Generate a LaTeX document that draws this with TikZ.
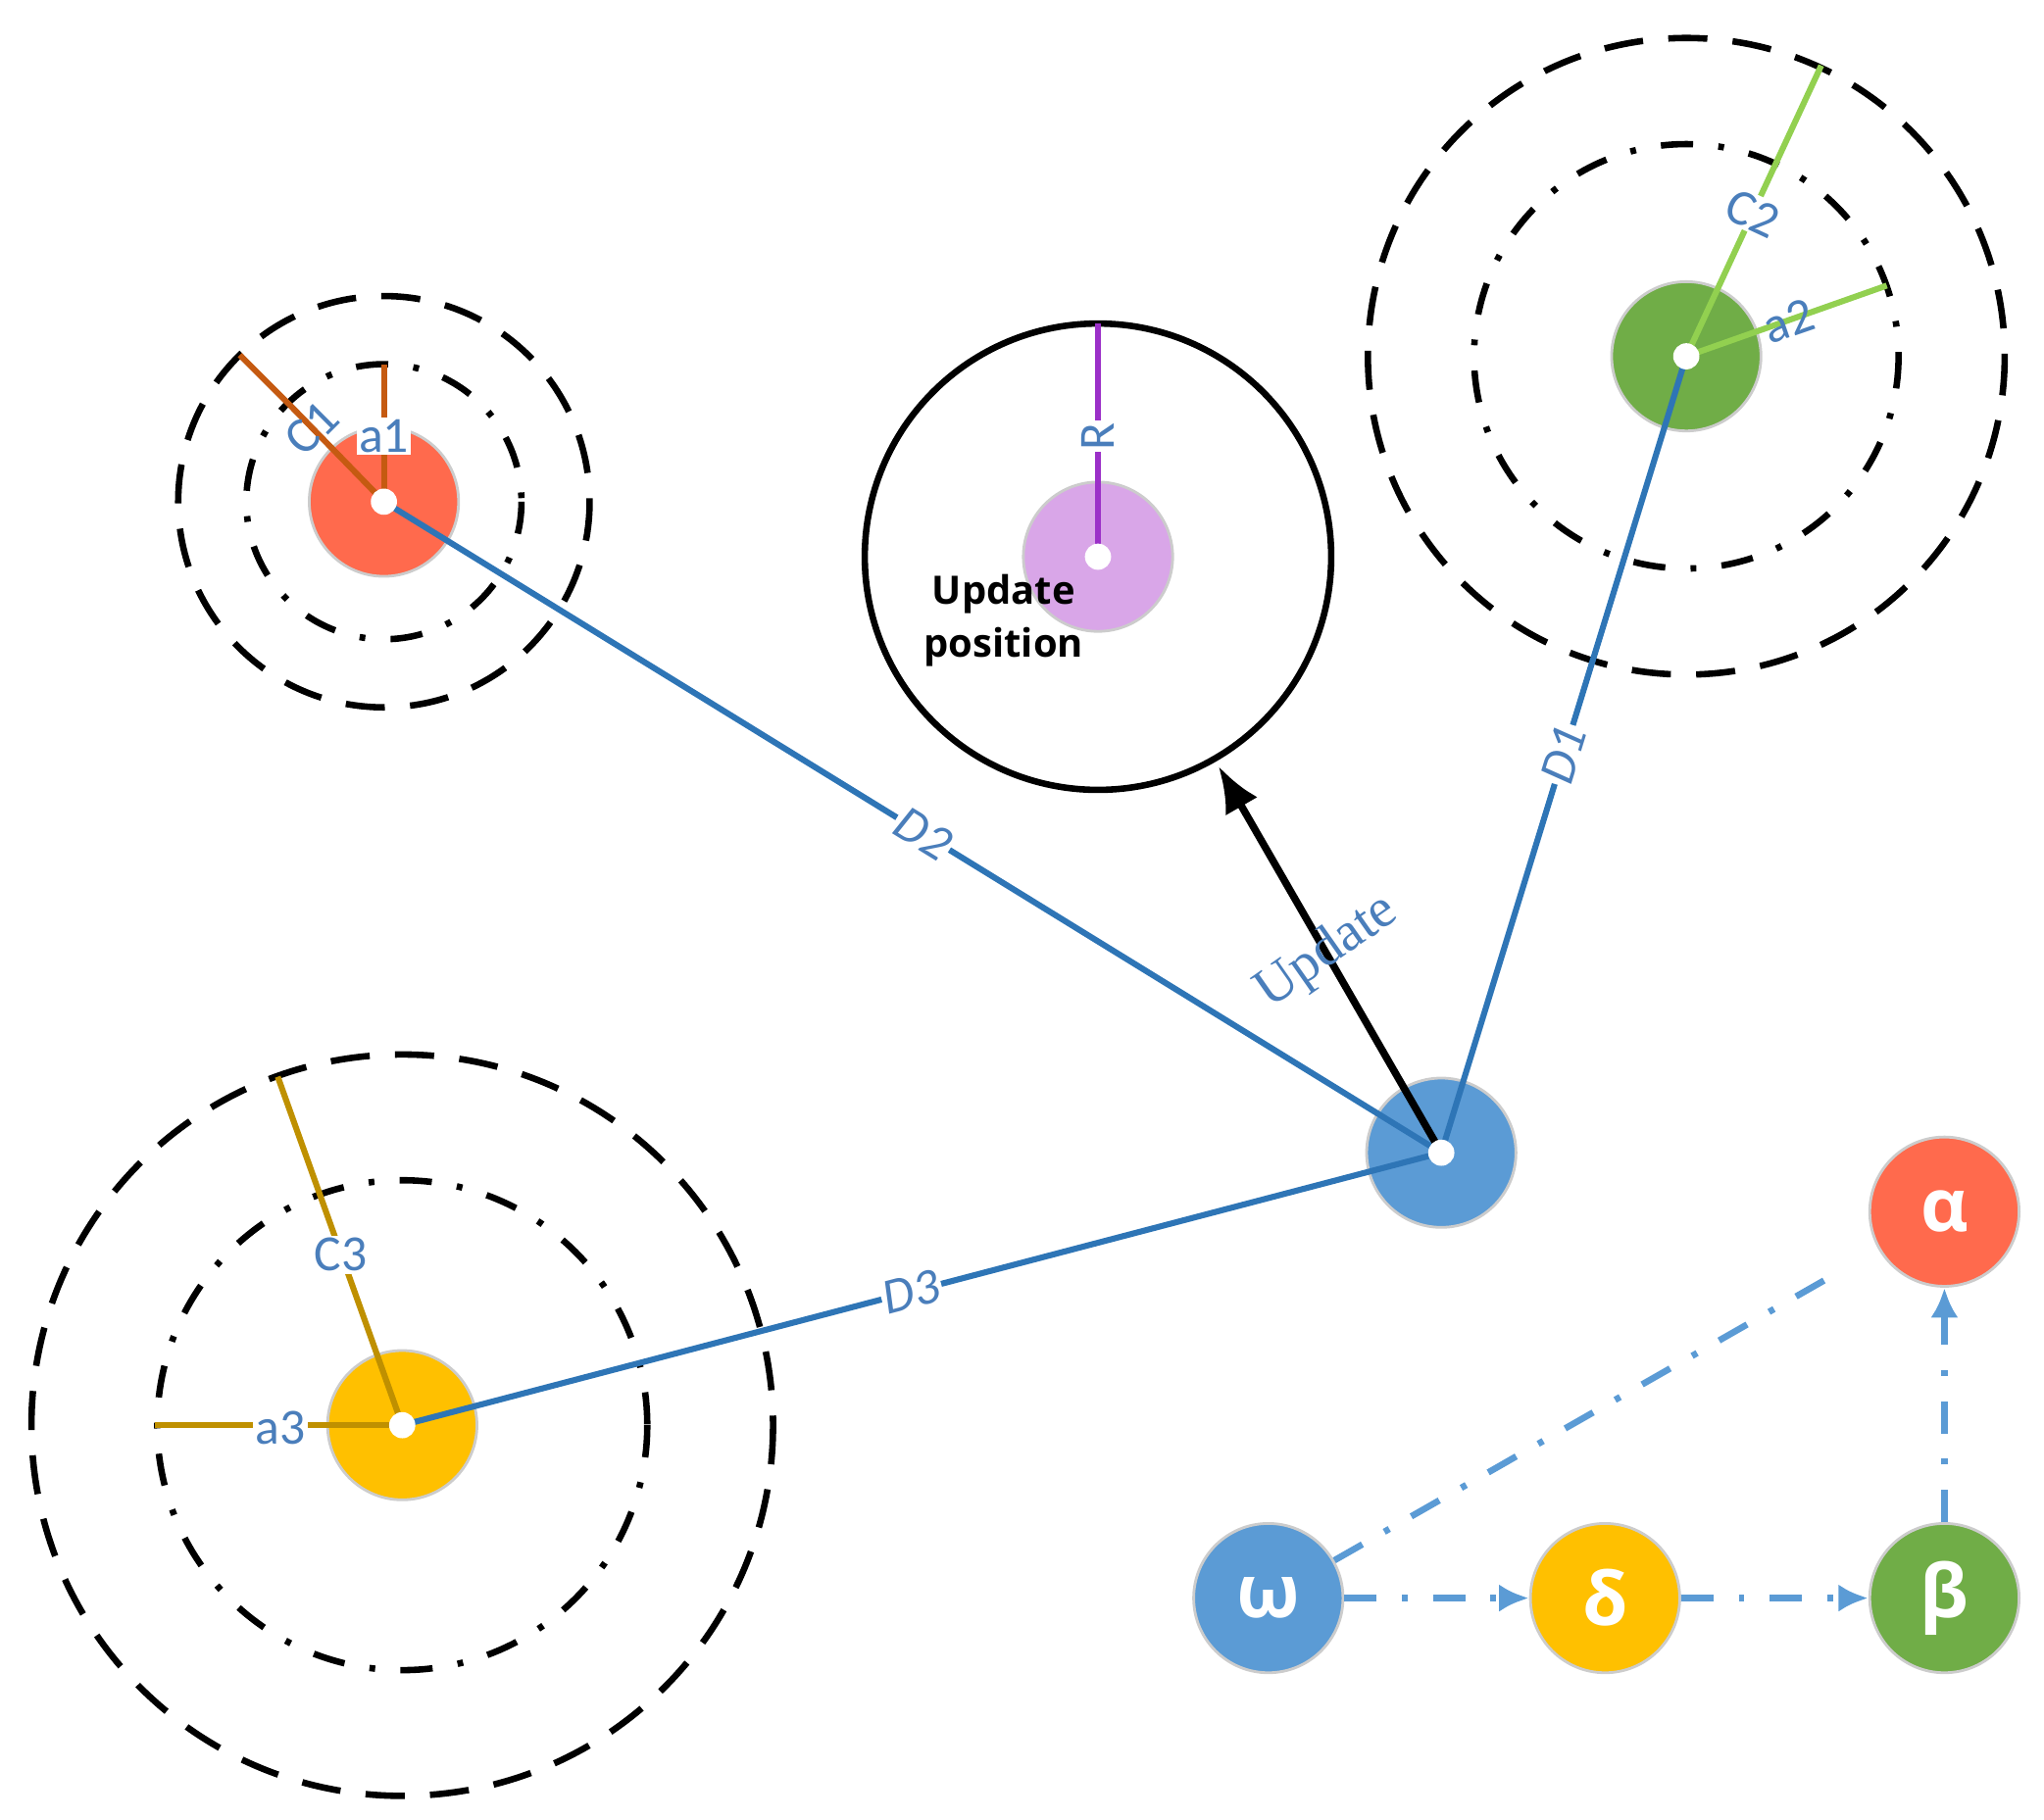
\documentclass[tikz,border=0pt]{standalone}
\usepackage{fontspec}
\setmainfont{Carlito}
\newfontfamily\serifm{Liberation Serif}
\newfontfamily\sansb{Open Sans}
\usetikzlibrary{arrows.meta}
\definecolor{cred}{HTML}{FF6A4D}
\definecolor{cgreen}{HTML}{70AD47}
\definecolor{cblue}{HTML}{5B9BD5}
\definecolor{cyel}{HTML}{FFC000}
\definecolor{cpur}{HTML}{D9A6E8}
\definecolor{dline}{HTML}{2E75B6}
\definecolor{ltxt}{HTML}{4A7EBB}
\definecolor{corg}{HTML}{C55A11}
\definecolor{cgl}{HTML}{92D050}
\definecolor{cgold}{HTML}{BF9000}
\definecolor{cviol}{HTML}{9B30C8}
\tikzset{
 ball/.style={circle,minimum size=2.28cm,inner sep=0pt,draw=black!20,line width=1.2pt},
 hole/.style={circle,fill=white,minimum size=0.4cm,inner sep=0pt},
 ring1/.style={draw,line width=2.8pt,dash pattern=on 17pt off 11pt},
 ring2/.style={draw,line width=2.8pt,dash pattern=on 14pt off 11pt on 2.5pt off 11pt},
 dl/.style={draw=dline,line width=2.6pt},
 rl/.style={line width=2.6pt},
 lab/.style={text=ltxt,font=\fontsize{22}{22}\selectfont,inner sep=1pt},
 wlab/.style={lab,fill=white},
 greek/.style={text=white,font=\sansb\bfseries\fontsize{32}{32}\selectfont},
 leg/.style={draw=cblue,line width=2.8pt,dash pattern=on 14pt off 11pt on 2.5pt off 11pt},
}
\begin{document}
\begin{tikzpicture}[x=0.02cm,y=-0.02cm]
\useasboundingbox (0,0) rectangle (1560,1389);
% rings
\draw[ring2] (293,383) circle (105);
\draw[ring1] (293,383) circle (157);
\draw[ring2] (1287,272) circle (162);
\draw[ring1] (1287,272) circle (243);
\draw[ring2] (307,1088) circle (187);
\draw[ring1] (307,1088) circle (283);
\draw[line width=2.8pt] (838,425) circle (178);
% nodes
\node[ball,fill=cred] (red) at (293,383) {};
\node[ball,fill=cpur] (pur) at (838,425) {};
\node[ball,fill=cgreen] (grn) at (1287,272) {};
\node[ball,fill=cblue] (blu) at (1100,880) {};
\node[ball,fill=cyel] (yel) at (307,1088) {};
% coordinates
\coordinate (a1e) at (293,278);
\coordinate (c1e) at (222,310);
\coordinate (c1t) at (183,271);
\coordinate (re) at (838,247);
\coordinate (c2e) at (1390,50);
\coordinate (a2e) at (1440,218);
\coordinate (c3e) at (212,822);
\coordinate (a3e) at (118,1088);
\coordinate (arr) at (930,585);
% radii
\draw[corg,rl] (red.center) -- (a1e);
\draw[corg,rl] (red.center) -- (c1e) -- (c1t);
\node[lab,fill=white] at (293,333) {a1};
\node[lab,rotate=45] at (238,327) {C1};
\draw[cviol,rl] (pur.center) -- (re);
\node[lab,rotate=90,fill=white] at (838,333) {R};
\node[font=\sansb\bfseries\fontsize{17}{23}\selectfont,align=center] at (766,474) {Update\\position};
\draw[cgl,rl] (grn.center) -- (c2e);
\draw[cgl,rl] (grn.center) -- (a2e);
\node[lab,fill=white,rotate=-25] at (1338,163) {C2};
\node[lab,rotate=19] at (1365,245) {a2};
\draw[cgold,rl] (yel.center) -- (c3e);
\draw[cgold,rl] (yel.center) -- (a3e);
\node[wlab] at (260,958) {C3};
\node[wlab] at (214,1090) {a3};
% D lines
\draw[dl] (blu.center) -- node[wlab,sloped,font=\itshape\fontsize{22}{22}\selectfont,pos=0.5] {D1} (grn.center);
\draw[dl] (blu.center) -- node[wlab,sloped,font=\itshape\fontsize{22}{22}\selectfont,pos=0.49] {D2} (red.center);
\draw[dl] (blu.center) -- node[wlab,sloped,font=\itshape\fontsize{22}{22}\selectfont,pos=0.51] {D3} (yel.center);
\draw[line width=3.2pt,-{Latex[length=20pt,width=16pt]}] (blu.center) -- (arr);
\node[text=ltxt,font=\serifm\fontsize{24}{24}\selectfont,rotate=35] at (1013,727) {Update};
% holes
\foreach \n in {red,pur,grn,blu,yel} \node[hole] at (\n.center) {};
% legend
\node[ball,fill=cblue,greek] (om) at (968,1220) {ω};
\node[ball,fill=cyel,greek] (de) at (1225,1220) {δ};
\node[ball,fill=cgreen,greek] (be) at (1484,1220) {β};
\node[ball,fill=cred,greek] (al) at (1484,925) {α};
\draw[leg,-{Latex[length=13pt,width=12pt]}] (om) -- (de);
\draw[leg,-{Latex[length=13pt,width=12pt]}] (de) -- (be);
\draw[leg,-{Latex[length=13pt,width=12pt]}] (be) -- (al);
\draw[leg,shorten >=20pt] (om) -- (al);
\end{tikzpicture}
\end{document}
